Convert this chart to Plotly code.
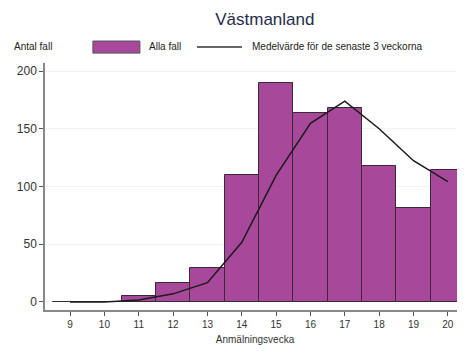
import plotly.graph_objects as go

weeks = [9, 10, 11, 12, 13, 14, 15, 16, 17, 18, 19, 20]
alla_fall = [0, 0, 5, 16, 29, 110, 190, 164, 168, 118, 81, 114]
medelvarde = [0, 0, 1.7, 7, 16.7, 51.7, 109.7, 154.7, 174, 150, 122.3, 104.3]
y_ticks = [0, 50, 100, 150, 200]

FONT = "Liberation Sans, Arial, sans-serif"
PURPLE = '#a8489a'

fig = go.Figure()

fig.add_trace(go.Bar(
    x=weeks, y=alla_fall, width=1,
    marker=dict(color=PURPLE, line=dict(color='#3a2838', width=1)),
    name="Alla fall", showlegend=False
))

fig.add_trace(go.Scatter(
    x=weeks, y=medelvarde, mode='lines',
    line=dict(color='#1a1a1a', width=1.5),
    name="Medelvärde för de senaste 3 veckorna", showlegend=False
))

# hand-made legend so the bar swatch is a wide rectangle
fig.add_shape(type='rect', xref='paper', yref='paper',
              x0=0.114, x1=0.226, y0=1.040, y1=1.089,
              fillcolor=PURPLE, line=dict(color='#555555', width=1))
fig.add_shape(type='line', xref='paper', yref='paper',
              x0=0.362, x1=0.469, y0=1.065, y1=1.065,
              line=dict(color='#333333', width=1.5))
fig.add_annotation(text="Alla fall", xref='paper', yref='paper', x=0.243, y=1.065,
                   xanchor='left', yanchor='middle', showarrow=False,
                   font=dict(size=10, color='#222222', family=FONT))
fig.add_annotation(text="Medelvärde för de senaste 3 veckorna", xref='paper', yref='paper',
                   x=0.488, y=1.065, xanchor='left', yanchor='middle', showarrow=False,
                   font=dict(size=10, color='#222222', family=FONT))
fig.add_annotation(text="Antal fall", xref='paper', yref='paper', x=-0.079, y=1.065,
                   xanchor='left', yanchor='middle', showarrow=False,
                   font=dict(size=10, color='#222222', family=FONT))

# the page body adds an 8px margin, so shrink the figure to avoid overflow
fig.update_layout(
    width=457, height=337,
    title=dict(text="Västmanland", x=0.562, xanchor='center', y=0.967, yanchor='middle',
               font=dict(size=17, color='#1f2d4a', family=FONT)),
    plot_bgcolor='white', paper_bgcolor='white',
    margin=dict(l=37, r=0, t=55, b=35),
    bargap=0,
    font=dict(family=FONT, color='#222222'),
)
fig.update_xaxes(
    range=[8.27, 20.5], tickvals=weeks, ticks='outside', ticklen=4, tickcolor='#555555',
    showgrid=False, showline=True, linecolor='#888888', linewidth=1.5,
    tickfont=dict(size=10, color='#333333'), automargin=False,
    title=dict(text="Anmälningsvecka", font=dict(size=10, color='#333333'), standoff=12),
    zeroline=False,
)
fig.update_yaxes(
    range=[-7, 207], tickvals=y_ticks, ticks='outside', ticklen=4, tickcolor='#555555',
    showgrid=True, gridcolor='#eef4f4', showline=True, linecolor='#888888', linewidth=1.5,
    tickfont=dict(size=12, color='#333333'), zeroline=False, automargin=False,
)

fig.write_html("out.html")
